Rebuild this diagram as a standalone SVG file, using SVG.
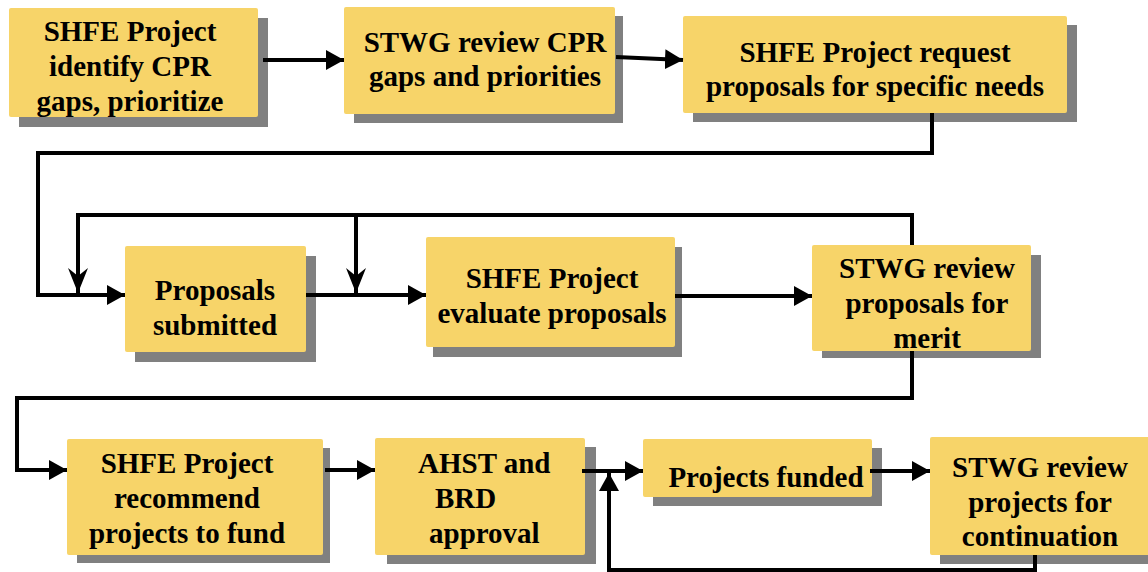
<svg xmlns="http://www.w3.org/2000/svg" width="1148" height="572" viewBox="0 0 1148 572">
<style>
.box{fill:#F7D469;}
.sh{fill:#808080;}
.t{font-family:"Liberation Serif","Tinos","Times New Roman","Times","DejaVu Serif",serif;font-weight:700;font-size:29px;fill:#000;text-anchor:middle;}
.c{fill:none;stroke:#000;stroke-width:4;stroke-linejoin:miter;}
</style>
<defs>
<marker id="ah" markerUnits="userSpaceOnUse" markerWidth="18" markerHeight="20" refX="18" refY="10" orient="auto">
<path d="M0,0 L18,10 L0,20 z" fill="#000"/>
</marker>
<marker id="an" markerUnits="userSpaceOnUse" markerWidth="26" markerHeight="20" refX="25" refY="10" orient="auto">
<path d="M0,0 L25,10 L0,20 L8,10 z" fill="#000"/>
</marker>
</defs>
<g id="n1">
<rect class="sh" x="19" y="18" width="249" height="109"/>
<rect class="box" x="9" y="8" width="249" height="109" rx="2"/>
<text class="t" x="130" y="41">SHFE Project</text>
<text class="t" x="130" y="76">identify CPR</text>
<text class="t" x="130" y="111">gaps, prioritize</text>
</g>
<g id="n2">
<rect class="sh" x="354" y="16" width="269" height="107"/>
<rect class="box" x="344" y="7" width="271" height="107" rx="2"/>
<text class="t" x="485" y="52">STWG review CPR</text>
<text class="t" x="485" y="86">gaps and priorities</text>
</g>
<g id="n3">
<rect class="sh" x="693" y="25" width="384" height="97"/>
<rect class="box" x="683" y="16" width="384" height="97" rx="2"/>
<text class="t" x="875" y="62">SHFE Project request</text>
<text class="t" x="875" y="96">proposals for specific needs</text>
</g>
<g id="n4">
<rect class="sh" x="135" y="256" width="181" height="106"/>
<rect class="box" x="125" y="246" width="181" height="106" rx="2"/>
<text class="t" x="215" y="300">Proposals</text>
<text class="t" x="215" y="335">submitted</text>
</g>
<g id="n5">
<rect class="sh" x="433" y="247" width="249" height="110"/>
<rect class="box" x="426" y="237" width="249" height="110" rx="2"/>
<text class="t" x="552" y="288">SHFE Project</text>
<text class="t" x="552" y="323">evaluate proposals</text>
</g>
<g id="n6">
<rect class="sh" x="822" y="255" width="219" height="103"/>
<rect class="box" x="812" y="245" width="219" height="106" rx="2"/>
<text class="t" x="927" y="278">STWG review</text>
<text class="t" x="927" y="313">proposals for</text>
<text class="t" x="927" y="348">merit</text>
</g>
<g id="n7">
<rect class="sh" x="77" y="448" width="253" height="115"/>
<rect class="box" x="67" y="439" width="256" height="116" rx="2"/>
<text class="t" x="187" y="473">SHFE Project</text>
<text class="t" x="187" y="508">recommend</text>
<text class="t" x="187" y="543">projects to fund</text>
</g>
<g id="n8">
<rect class="sh" x="387" y="447" width="209" height="117"/>
<rect class="box" x="375" y="438" width="210" height="117" rx="2"/>
<text class="t" x="418" y="473" style="text-anchor:start">AHST and</text>
<text class="t" x="435" y="508" style="text-anchor:start">BRD</text>
<text class="t" x="429" y="543" style="text-anchor:start">approval</text>
</g>
<g id="n9">
<rect class="sh" x="653" y="448" width="229" height="58"/>
<rect class="box" x="643" y="439" width="229" height="58" rx="2"/>
<text class="t" x="766" y="487">Projects funded</text>
</g>
<g id="n10">
<rect class="sh" x="940" y="447" width="218" height="117"/>
<rect class="box" x="930" y="437" width="220" height="118" rx="2"/>
<text class="t" x="1040" y="477">STWG review</text>
<text class="t" x="1040" y="512">projects for</text>
<text class="t" x="1040" y="546">continuation</text>
</g>
<g id="connectors">
<path class="c" d="M263,60 H344" marker-end="url(#ah)"/>
<path class="c" d="M616,57 L683,60" marker-end="url(#ah)"/>
<path class="c" d="M932,113 V153 H38 V295 H125" marker-end="url(#ah)"/>
<path class="c" d="M306,295 H426" marker-end="url(#ah)"/>
<path class="c" d="M912,245 V215 H78 V293" marker-end="url(#an)"/>
<path class="c" d="M356,215 V293" marker-end="url(#an)"/>
<path class="c" d="M675,296 H812" marker-end="url(#ah)"/>
<path class="c" d="M912,351 V398 H17 V470 H67" marker-end="url(#ah)"/>
<path class="c" d="M325,470 H375" marker-end="url(#ah)"/>
<path class="c" d="M582,471 H643" marker-end="url(#ah)"/>
<path class="c" d="M870,471 H930" marker-end="url(#ah)"/>
<path class="c" d="M1035,555 V570 H609 V473" marker-end="url(#ah)"/>
</g>
</svg>
